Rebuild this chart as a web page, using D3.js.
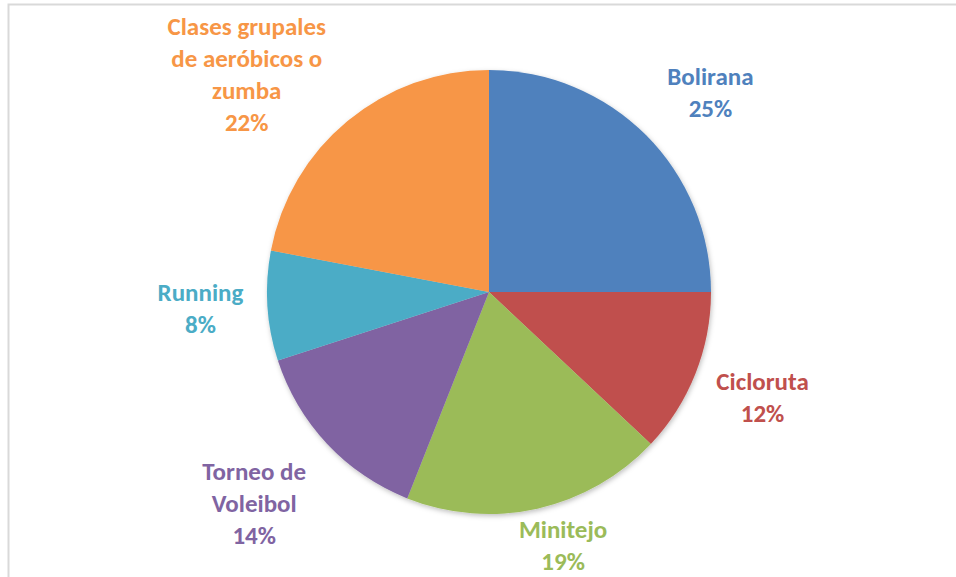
<!DOCTYPE html>
<html>
<head>
<meta charset="utf-8">
<script src="https://cdn.jsdelivr.net/npm/d3@7"></script>
<style>
  body { margin: 0; background: #fff; }
  svg { display: block; }
  .lbl { font-family: Carlito, Lato, "Open Sans", sans-serif; font-weight: bold; font-size: 25px; }
</style>
</head>
<body>
<div id="chart"></div>
<script>
// slice data, clockwise from 12 o'clock
const categories = ["Bolirana", "Cicloruta", "Minitejo", "Torneo de Voleibol", "Running", "Clases grupales de aeróbicos o zumba"];
const values = [25, 12, 19, 14, 8, 22];
const colors = ["#4F81BD", "#C0504D", "#9BBB59", "#8064A2", "#4BACC6", "#F79646"];
// how each label wraps
const labelLines = [["Bolirana"], ["Cicloruta"], ["Minitejo"], ["Torneo de", "Voleibol"], ["Running"], ["Clases grupales", "de aeróbicos o", "zumba"]];

const width = 956, height = 577;
const cx = 489, cy = 292, radius = 222;

const svg = d3.select("#chart").append("svg")
    .attr("width", width)
    .attr("height", height);

// chart area border (only top and left are visible in the crop)
svg.append("path")
   .attr("d", "M8.5," + height + "V4.5H" + width)
   .attr("fill", "none")
   .attr("stroke", "#d9d9d9")
   .attr("stroke-width", 2);

const defs = svg.append("defs");
const shadow = defs.append("filter").attr("id", "shadow")
    .attr("x", "-10%").attr("y", "-10%").attr("width", "120%").attr("height", "120%");
shadow.append("feDropShadow")
      .attr("dx", 1).attr("dy", 2).attr("stdDeviation", 2.5)
      .attr("flood-color", "#000").attr("flood-opacity", 0.25);

const data = categories.map((c, i) => ({ name: c, value: values[i], color: colors[i], lines: labelLines[i] }));

const pie = d3.pie().value(d => d.value).sort(null);
const arcs = pie(data);

const arc = d3.arc().innerRadius(0).outerRadius(radius);

const g = svg.append("g").attr("transform", "translate(" + cx + "," + cy + ")");

g.append("g").attr("filter", "url(#shadow)")
 .selectAll("path")
 .data(arcs)
 .enter().append("path")
 .attr("d", arc)
 .attr("fill", d => d.data.color);

// labels sit outside the pie, best-fit style
const labelRadius = [298, 293, 264, 316, 289, 326];
const labelAngle = [48, 111, 163.7, 228, 266.8, 312]; // degrees clockwise from top, nudged like Excel's best fit
const lineHeight = 32;

arcs.forEach((d, i) => {
    const a = labelAngle[i] * Math.PI / 180;
    const r = labelRadius[i];
    const x = r * Math.sin(a), y = -r * Math.cos(a);
    const lines = d.data.lines.concat([Math.round(d.data.value) + "%"]);
    const t = g.append("text")
        .attr("class", "lbl")
        .attr("fill", d.data.color)
        .attr("text-anchor", "middle")
        .attr("x", x)
        .attr("y", y - (lines.length - 1) * lineHeight / 2);
    lines.forEach((l, j) => {
        t.append("tspan")
         .attr("x", x)
         .attr("dy", j == 0 ? "0.35em" : lineHeight)
         .text(l);
    });
});
</script>
</body>
</html>
